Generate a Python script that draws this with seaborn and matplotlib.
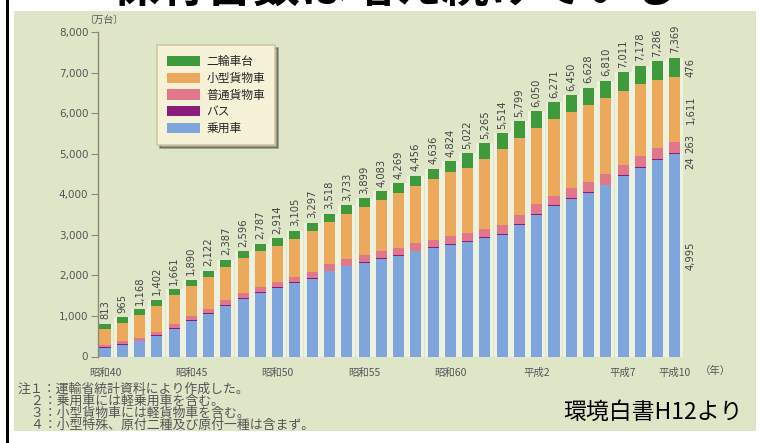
import numpy as np
import pandas as pd
import matplotlib
matplotlib.use("Agg")
import matplotlib.pyplot as plt
from matplotlib.patches import Rectangle, Patch
import seaborn as sns

# 自動車保有台数（万台）昭和40年〜平成10年
year_labels = ["昭和40", "昭和45", "昭和50", "昭和55", "昭和60", "平成2", "平成7", "平成10"]
year_label_pos = [0, 5, 10, 15, 20, 25, 30, 33]

totals = [813, 965, 1168, 1402, 1661, 1890, 2122, 2387, 2596, 2787,
          2914, 3105, 3297, 3518, 3733, 3899, 4083, 4269, 4456, 4636,
          4824, 5022, 5265, 5514, 5799, 6050, 6271, 6450, 6628, 6810,
          7011, 7178, 7286, 7369]

passenger = [220, 295, 377, 517, 690, 878, 1057, 1258, 1420, 1560,
             1690, 1813, 1911, 2099, 2222, 2304, 2403, 2485, 2591, 2673,
             2755, 2837, 2926, 3007, 3255, 3502, 3708, 3891, 4040, 4220,
             4451, 4658, 4850, 4995]
bus = [10, 11, 12, 13, 15, 17, 18, 19, 20, 21,
       21, 22, 22, 22, 23, 23, 23, 23, 23, 23,
       23, 23, 23, 24, 24, 24, 24, 24, 24, 24,
       24, 24, 24, 24]
truck = [65, 70, 78, 85, 92, 100, 105, 112, 120, 125,
         130, 136, 142, 150, 160, 168, 172, 175, 178, 182,
         186, 192, 198, 206, 215, 226, 236, 242, 246, 250,
         254, 258, 260, 263]
small_truck = [378, 444, 551, 635, 709, 735, 777, 828, 861, 901,
               883, 934, 1017, 1037, 1113, 1189, 1265, 1356, 1414, 1498,
               1580, 1610, 1728, 1877, 1895, 1883, 1883, 1868, 1888, 1876,
               1832, 1778, 1684, 1611]
two_wheel = [140, 145, 150, 152, 155, 160, 165, 170, 175, 180,
             190, 200, 205, 210, 215, 215, 220, 230, 250, 260,
             280, 360, 390, 400, 410, 415, 420, 425, 430, 440,
             450, 460, 468, 476]

series_names = ["乗用車", "バス", "普通貨物車", "小型貨物車", "二輪車台"]
series_colors = ["#7fa6dc", "#8a1c7c", "#e2768a", "#eca95c", "#3f9a3c"]

notes = [
    "注１：運輸省統計資料により作成した。",
    "　２：乗用車には軽乗用車を含む。",
    "　３：小型貨物車には軽貨物車を含む。",
    "　４：小型特殊、原付二種及び原付一種は含まず。",
]

sns.set_theme(style="white")
plt.rcParams["font.family"] = ["Noto Sans CJK JP", "DejaVu Sans"]

W, H = 764, 443
fig = plt.figure(figsize=(W / 100, H / 100), dpi=100, facecolor="white")

def fx(px):
    return px / W

def fy(py):
    return 1 - py / H

# panel background and left rule
fig.patches.append(Rectangle((fx(14), fy(431)), fx(756) - fx(14), fy(11) - fy(431),
                             transform=fig.transFigure, facecolor="#dfe6c8",
                             edgecolor="none", zorder=-2))
fig.patches.append(Rectangle((fx(6), 0), fx(3), 1, transform=fig.transFigure,
                             facecolor="black", edgecolor="none", zorder=-1))

ax_left, ax_right, ax_top, ax_bot = 98, 740, 32.3, 356.5
ax = fig.add_axes([fx(ax_left), fy(ax_bot), fx(ax_right - ax_left), (ax_bot - ax_top) / H])
ax.set_facecolor("none")
ax.set_zorder(3)

idx = np.arange(len(totals))
layers = [passenger, bus, truck, small_truck, two_wheel]
cum = np.cumsum(np.array(layers), axis=0)

df = pd.DataFrame({"idx": idx, "total": totals})
# pale backing columns
sns.barplot(data=df, x="idx", y="total", color="#eef1e0", width=0.98,
            saturation=1, linewidth=0, errorbar=None, ax=ax)
# stacked bars, drawn from the top layer down
for k in range(len(layers) - 1, -1, -1):
    sns.barplot(x=idx, y=cum[k], color=series_colors[k], width=0.64,
                saturation=1, linewidth=0, errorbar=None, ax=ax)

ax.set_ylim(0, 8000)
ax.set_xlim(-0.405, -0.405 + (ax_right - ax_left) / 17.27)

ax.set_yticks(range(0, 8001, 1000))
ax.set_yticklabels([f"{v:,}" for v in range(0, 8001, 1000)])
ax.set_xticks(year_label_pos)
ax.set_xticklabels(year_labels)
ax.tick_params(axis="y", length=5, width=0.8, color="#8a8a7a", labelsize=7.5,
               labelcolor="#555555", pad=2, direction="out", left=True)
ax.tick_params(axis="x", length=0, labelsize=7.5, labelcolor="#555555", pad=8)
for lbl in ax.get_yticklabels():
    lbl.set_family(["DejaVu Sans"])
ax.set_xlabel("")
ax.set_ylabel("")
for s in ["top", "right", "bottom"]:
    ax.spines[s].set_visible(False)
ax.spines["left"].set_color("#8a8a7a")
ax.spines["left"].set_linewidth(1.0)
ax.text(33 + 1.45, -360, "（年）", ha="left", va="center", fontsize=7.5, color="#555555")

# totals above each bar
for i, t in enumerate(totals):
    ax.text(i, t + 110, f"{t:,}", rotation=90, ha="center", va="bottom",
            fontsize=7.2, color="#444444", family=["DejaVu Sans"])

# breakdown of the final year beside its bar
last = len(totals) - 1
xr = last + 0.9
lab_kw = dict(rotation=90, ha="center", fontsize=7.2, color="#444444", family=["DejaVu Sans"])
ax.text(xr, passenger[last] / 2, f"{passenger[last]:,}", va="center", **lab_kw)
ax.text(xr, cum[0][last] - 60, f"{bus[last]:,}", va="top", **lab_kw)
ax.text(xr, cum[0][last] + 20, f"{truck[last]:,}", va="bottom", **lab_kw)
ax.text(xr, (cum[2][last] + cum[3][last]) / 2, f"{small_truck[last]:,}", va="center", **lab_kw)
ax.text(xr, (cum[3][last] + cum[4][last]) / 2, f"{two_wheel[last]:,}", va="center", **lab_kw)

# legend (top layer first)
handles = [Patch(facecolor=series_colors[k], edgecolor="none") for k in range(4, -1, -1)]
labels = [series_names[k] for k in range(4, -1, -1)]
leg = ax.legend(handles, labels, loc="upper left",
                bbox_to_anchor=((157 - ax_left) / (ax_right - ax_left), (ax_bot - 45) / (ax_bot - ax_top)),
                fontsize=8.5, frameon=True, fancybox=False, shadow=True,
                handlelength=2.8, handleheight=0.95, labelspacing=0.32,
                borderpad=0.85, handletextpad=0.55, borderaxespad=0)
leg.get_frame().set_facecolor("#f5f2d8")
leg.get_frame().set_edgecolor("#cfc8a2")
leg.get_frame().set_linewidth(1.2)

fig.text(fx(104), fy(20), "〔万台〕", ha="center", va="center", fontsize=7, color="#555555")

# title, partially above the page edge
fig.text(fx(395), fy(13), "保有台数は増え続けている", ha="center", va="bottom",
         fontsize=34, fontweight="bold", color="black", zorder=5)

for j, line in enumerate(notes):
    fig.text(fx(18), fy(389 + 12.2 * j), line, ha="left", va="center",
             fontsize=9.3, color="#555555")

fig.text(fx(653), fy(412), "環境白書H12より", ha="center", va="center",
         fontsize=16.5, color="black")

fig.savefig("out.png", dpi=100, facecolor="white")
